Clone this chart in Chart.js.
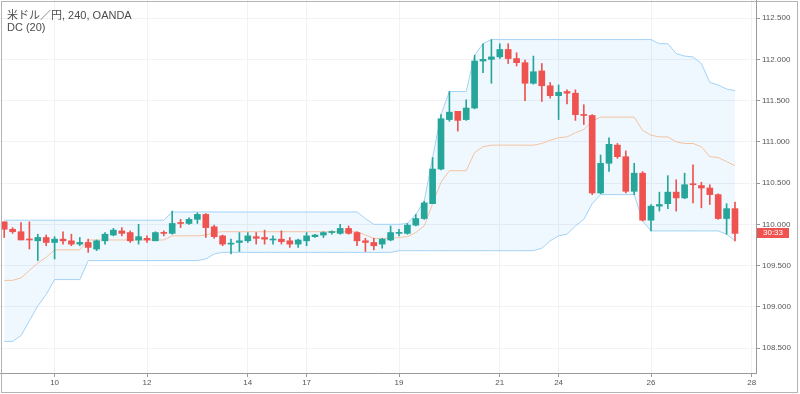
<!DOCTYPE html>
<html lang="ja">
<head>
<meta charset="UTF-8">
<title>米ドル／円, 240, OANDA</title>
<script src="https://cdn.jsdelivr.net/npm/chart.js@4.4.1/dist/chart.umd.min.js"></script>
<style>
  html, body { margin: 0; padding: 0; background: #fff; }
  .wrap { position: relative; width: 800px; height: 394px; }
  canvas { display: block; }
  .legend {
    position: absolute; left: 7px; top: 9px;
    font: 11px "Liberation Sans", "Noto Sans CJK JP", sans-serif;
    line-height: 12px; color: #4c4c4c; pointer-events: none;
  }
</style>
</head>
<body>
<div class="wrap">
  <canvas id="chart" width="800" height="394"></canvas>
  <div class="legend"><div>米ドル／円, 240, OANDA</div><div>DC (20)</div></div>
</div>
<script>
// 4時間足 (2月), 1本ごとの日付
const days = [
  '7','7','7','7','7','7',
  '10','10','10','10','10','10','11','11','11','11','11',
  '12','12','12','12','12','12','13','13','13','13','13','13',
  '14','14','14','14','14','14','14',
  '17','17','17','17','17','17','18','18','18','18','18',
  '19','19','19','19','19','19','20','20','20','20','20','20',
  '21','21','21','21','21','21','21',
  '24','24','24','24','24','24','25','25','25','25','25',
  '26','26','26','26','26','26','27','27','27','27','27','27',
  '28'
];
const tickDays = ['10','12','14','17','19','21','24','26','28'];
const priceTicks = [108.5, 109, 109.5, 110, 110.5, 111, 111.5, 112, 112.5];
const countdown = '30:33';

const opens = [
  110.03,109.94,109.91,109.82,109.80,109.84,109.78,109.82,109.80,109.76,
  109.78,109.70,109.80,109.87,109.92,109.90,109.81,109.83,109.80,109.90,
  109.89,110.02,110.01,110.06,110.12,109.97,109.86,109.76,109.78,109.80,
  109.85,109.84,109.81,109.82,109.80,109.76,109.80,109.85,109.87,109.90,
  109.89,109.95,109.90,109.80,109.78,109.76,109.81,109.89,109.89,109.99,
  110.07,110.25,110.67,111.27,111.37,111.27,111.41,111.98,112.00,112.03,
  112.12,112.01,111.96,111.71,111.86,111.68,111.56,111.61,111.59,111.33,
  111.32,110.38,110.74,110.96,110.82,110.40,110.62,110.05,110.22,110.25,
  110.39,110.32,110.49,110.47,110.44,110.36,110.07,110.19
];
const highs = [
  110.03,109.96,110.02,110.03,109.88,109.87,109.85,109.91,109.88,109.84,
  109.82,109.81,109.90,109.95,109.96,109.92,110.00,109.86,109.91,109.92,
  110.16,110.06,110.08,110.14,110.13,109.99,109.87,109.82,109.90,109.90,
  109.90,109.93,109.86,109.92,109.84,109.82,109.90,109.88,109.91,109.92,
  110.00,109.98,109.91,109.83,109.83,109.83,109.98,109.94,110.01,110.12,
  110.28,110.81,111.33,111.61,111.37,111.51,112.05,112.19,112.24,112.19,
  112.19,112.08,111.99,112.04,111.95,111.72,111.69,111.63,111.63,111.45,
  111.33,110.84,111.05,110.98,110.89,110.74,110.64,110.24,110.39,110.59,
  110.54,110.62,110.72,110.51,110.48,110.37,110.25,110.27
];
const lows = [
  109.84,109.89,109.81,109.70,109.56,109.74,109.58,109.76,109.74,109.74,
  109.66,109.68,109.76,109.86,109.86,109.78,109.76,109.78,109.80,109.86,
  109.88,109.96,110.00,110.01,109.84,109.83,109.74,109.64,109.67,109.78,
  109.76,109.76,109.76,109.76,109.72,109.72,109.74,109.84,109.84,109.88,
  109.88,109.88,109.74,109.67,109.69,109.71,109.80,109.86,109.88,109.98,
  110.06,110.25,110.66,111.25,111.13,111.26,111.40,111.84,111.71,112.01,
  111.95,111.92,111.50,111.70,111.49,111.53,111.27,111.46,111.26,111.21,
  110.36,110.37,110.64,110.80,110.38,110.36,110.04,109.92,110.16,110.19,
  110.16,110.31,110.26,110.20,110.24,110.06,109.88,109.80
];
const closes = [
  109.94,109.91,109.81,109.81,109.84,109.78,109.82,109.80,109.76,109.78,
  109.72,109.80,109.88,109.93,109.89,109.80,109.85,109.81,109.90,109.89,
  110.01,110.01,110.06,110.12,109.96,109.85,109.76,109.77,109.80,109.86,
  109.83,109.82,109.82,109.79,109.76,109.81,109.86,109.87,109.90,109.91,
  109.95,109.89,109.80,109.78,109.74,109.82,109.90,109.90,109.99,110.07,
  110.26,110.67,111.28,111.36,111.26,111.41,111.98,112.00,112.03,112.12,
  112.01,111.96,111.71,111.85,111.68,111.56,111.60,111.59,111.33,111.32,
  110.38,110.74,110.97,110.82,110.40,110.62,110.05,110.22,110.24,110.39,
  110.32,110.48,110.48,110.44,110.36,110.07,110.19,109.89
];

// Donchian Channel (20)
const dcUpper = [
  110.05,110.05,110.05,110.05,110.05,110.05,110.05,110.05,110.05,110.05,
  110.05,110.05,110.05,110.05,110.05,110.05,110.05,110.05,110.05,110.05,
  110.15,110.15,110.15,110.15,110.15,110.15,110.15,110.15,110.15,110.15,
  110.15,110.15,110.15,110.15,110.15,110.15,110.15,110.15,110.15,110.15,
  110.15,110.15,110.15,110.07,110.00,110.00,110.00,110.00,110.01,110.12,
  110.28,110.81,111.33,111.61,111.61,111.61,112.05,112.19,112.24,112.24,
  112.24,112.24,112.24,112.24,112.24,112.24,112.24,112.24,112.24,112.24,
  112.24,112.24,112.24,112.24,112.24,112.24,112.24,112.24,112.19,112.19,
  112.07,112.04,112.03,111.95,111.72,111.69,111.64,111.62
];
const dcMiddle = [
  109.32,109.32,109.35,109.44,109.53,109.60,109.69,109.69,109.69,109.69,
  109.81,109.81,109.81,109.81,109.81,109.81,109.81,109.81,109.81,109.81,
  109.86,109.86,109.86,109.86,109.87,109.90,109.91,109.91,109.91,109.91,
  109.91,109.91,109.91,109.91,109.91,109.91,109.91,109.91,109.91,109.91,
  109.91,109.91,109.91,109.87,109.83,109.83,109.83,109.84,109.85,109.90,
  109.98,110.25,110.51,110.65,110.65,110.65,110.87,110.94,110.96,110.96,
  110.96,110.96,110.96,110.96,110.98,111.02,111.05,111.06,111.11,111.15,
  111.25,111.30,111.30,111.30,111.30,111.30,111.14,111.08,111.06,111.06,
  111.00,110.98,110.98,110.94,110.82,110.81,110.76,110.71
];
const dcLower = [
  108.58,108.58,108.65,108.83,109.01,109.15,109.33,109.33,109.33,109.33,
  109.56,109.56,109.56,109.56,109.56,109.56,109.56,109.56,109.56,109.56,
  109.56,109.56,109.56,109.56,109.58,109.64,109.66,109.66,109.66,109.66,
  109.66,109.66,109.66,109.66,109.66,109.66,109.66,109.66,109.66,109.66,
  109.66,109.66,109.66,109.66,109.66,109.66,109.66,109.68,109.68,109.68,
  109.68,109.68,109.68,109.68,109.68,109.68,109.68,109.68,109.68,109.68,
  109.68,109.68,109.68,109.68,109.71,109.80,109.86,109.88,109.98,110.06,
  110.25,110.36,110.36,110.36,110.36,110.36,110.04,109.92,109.92,109.92,
  109.92,109.92,109.92,109.92,109.92,109.92,109.88,109.80
];

const upColor = '#26a69a';
const downColor = '#ef5350';
const axisColor = '#9a9a9a';
const gridColor = '#f0f2f6';
const tickFont = { family: '"Liberation Sans", sans-serif', size: 8 };

const candleColors = opens.map((o, i) => closes[i] >= o ? upColor : downColor);
const isDayTick = i => tickDays.includes(days[i]) && days[i] !== days[i - 1];

// 外枠とカウントダウン表示
const framePlugin = {
  id: 'frame',
  afterDraw(chart) {
    const { ctx, chartArea, scales } = chart;
    const y = scales.y.getPixelForValue(closes[closes.length - 1]);
    ctx.save();
    ctx.fillStyle = downColor;
    ctx.fillRect(chartArea.right + 1, Math.round(y) - 5, 32, 10);
    ctx.fillStyle = '#fff';
    ctx.font = '8px "Liberation Sans", sans-serif';
    ctx.textBaseline = 'middle';
    ctx.fillText(countdown, chartArea.right + 7, Math.round(y));
    ctx.strokeStyle = '#b4b4b4';
    ctx.lineWidth = 1;
    ctx.strokeRect(1.5, 1.5, 796, 391);
    ctx.restore();
  }
};

new Chart(document.getElementById('chart'), {
  type: 'bar',
  data: {
    labels: days,
    datasets: [
      {
        label: 'body',
        data: opens.map((o, i) => [o, closes[i]]),
        backgroundColor: candleColors,
        borderWidth: 0,
        barThickness: 6,
        minBarLength: 1,
        grouped: false,
        order: 1
      },
      {
        label: 'wick',
        data: lows.map((l, i) => [l, highs[i]]),
        backgroundColor: candleColors,
        borderWidth: 0,
        barThickness: 1,
        minBarLength: 1,
        grouped: false,
        order: 2
      },
      {
        type: 'line',
        label: 'DC upper',
        data: dcUpper,
        borderColor: '#a3d2f6',
        borderWidth: 1,
        pointRadius: 0,
        tension: 0,
        fill: '+1',
        backgroundColor: 'rgba(33,150,243,0.07)',
        order: 5
      },
      {
        type: 'line',
        label: 'DC lower',
        data: dcLower,
        borderColor: '#a3d2f6',
        borderWidth: 1,
        pointRadius: 0,
        tension: 0,
        fill: false,
        order: 4
      },
      {
        type: 'line',
        label: 'DC basis',
        data: dcMiddle,
        borderColor: '#f5c2a0',
        borderWidth: 1,
        pointRadius: 0,
        tension: 0,
        fill: false,
        order: 3
      }
    ]
  },
  options: {
    responsive: false,
    animation: false,
    devicePixelRatio: 1,
    layout: { padding: 0 },
    plugins: { legend: { display: false }, tooltip: { enabled: false } },
    scales: {
      x: {
        type: 'category',
        offset: true,
        grid: {
          offset: false,
          color: c => isDayTick(c.index) ? gridColor : 'rgba(0,0,0,0)',
          tickColor: c => isDayTick(c.index) ? axisColor : 'rgba(0,0,0,0)',
          tickLength: 4
        },
        border: { color: axisColor },
        ticks: {
          autoSkip: false,
          maxRotation: 0,
          padding: 1,
          font: tickFont,
          color: '#555',
          callback: (v, i) => isDayTick(i) ? days[i] : ''
        },
        afterFit: s => { s.height = 21; s.paddingLeft = 0; s.paddingRight = 0; }
      },
      y: {
        position: 'right',
        min: 108.197,
        max: 112.72,
        afterBuildTicks: a => { a.ticks = priceTicks.map(v => ({ value: v })); },
        grid: { color: gridColor, tickColor: axisColor, tickLength: 4 },
        border: { color: axisColor },
        ticks: {
          padding: 2,
          font: tickFont,
          color: '#555',
          callback: v => v.toFixed(3)
        },
        afterFit: s => { s.width = 44; s.paddingTop = 0; s.paddingBottom = 0; }
      }
    }
  },
  plugins: [framePlugin]
});
</script>
</body>
</html>
